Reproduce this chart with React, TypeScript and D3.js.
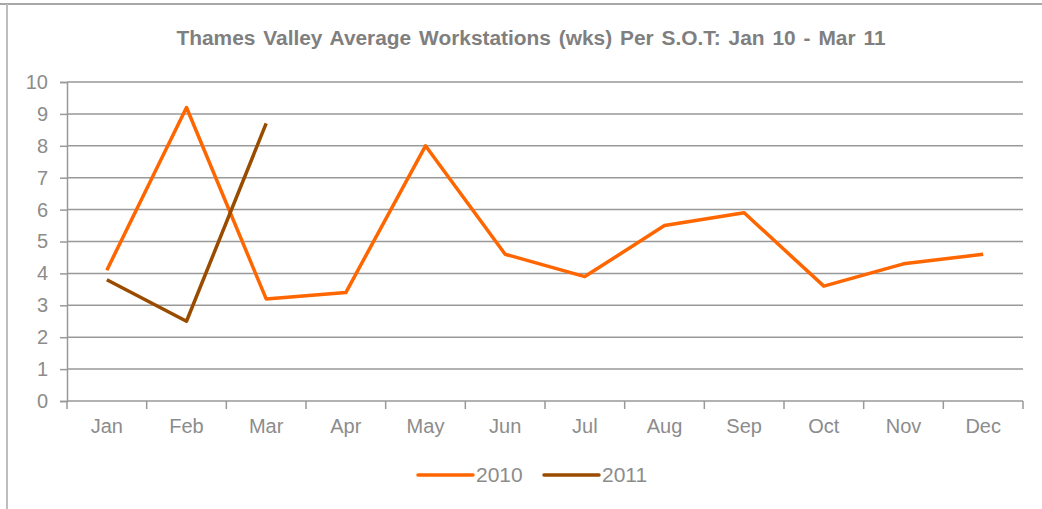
import React, { useEffect, useRef } from "react";
import * as d3 from "d3";

const months = ["Jan", "Feb", "Mar", "Apr", "May", "Jun", "Jul", "Aug", "Sep", "Oct", "Nov", "Dec"];
const values2010 = [4.1, 9.2, 3.2, 3.4, 8.0, 4.6, 3.9, 5.5, 5.9, 3.6, 4.3, 4.6];
const values2011 = [3.8, 2.5, 8.7];
const yTicks = [0, 1, 2, 3, 4, 5, 6, 7, 8, 9, 10];
const seriesNames = ["2010", "2011"];
const seriesColors = ["#FF6600", "#994C00"];

const W = 1042;
const H = 509;
const margin = { top: 82, right: 19, bottom: 108, left: 67 };

export default function App() {
  const ref = useRef<SVGSVGElement>(null);

  useEffect(() => {
    const svg = d3.select(ref.current);
    svg.selectAll("*").remove();
    const font = "'Liberation Sans', Arial, sans-serif";
    const gray = "#8c8c8c";

    // frame
    svg.append("line").attr("x1", 0).attr("x2", W).attr("y1", 4).attr("y2", 4)
      .attr("stroke", "#8a8a8a").attr("stroke-width", 1.5);
    svg.append("line").attr("x1", 7).attr("x2", 7).attr("y1", 4).attr("y2", H)
      .attr("stroke", "#bdbdbd").attr("stroke-width", 2);

    svg.append("text")
      .attr("x", 531).attr("y", 45)
      .attr("text-anchor", "middle")
      .attr("font-family", font).attr("font-weight", "bold").attr("font-size", 20)
      .attr("fill", "#7f7f7f")
      .attr("word-spacing", 2)
      .attr("textLength", 709)
      .attr("lengthAdjust", "spacingAndGlyphs")
      .text("Thames Valley Average Workstations (wks) Per S.O.T: Jan 10 - Mar 11");

    const x = d3.scaleBand<string>().domain(months).range([margin.left, W - margin.right]);
    const y = d3.scaleLinear().domain([0, 10]).range([H - margin.bottom, margin.top]);

    // gridlines
    svg.append("g").selectAll("line").data(yTicks.filter(t => t > 0)).join("line")
      .attr("x1", margin.left).attr("x2", W - margin.right)
      .attr("y1", d => y(d)).attr("y2", d => y(d))
      .attr("stroke", "#999").attr("stroke-width", 1.5);

    const yAxis = svg.append("g")
      .attr("transform", `translate(${margin.left},0)`)
      .call(d3.axisLeft(y).tickValues(yTicks).tickSize(7).tickPadding(12).tickFormat(d3.format("d")));
    yAxis.select(".domain").attr("stroke", "#999").attr("stroke-width", 1.5);
    yAxis.selectAll(".tick line").attr("stroke", "#999").attr("stroke-width", 1.5);
    yAxis.selectAll("text").attr("font-family", font).attr("font-size", 20).attr("fill", gray);

    const xAxis = svg.append("g")
      .attr("transform", `translate(0,${y(0)})`)
      .call(d3.axisBottom(x).tickSize(0).tickPadding(18));
    xAxis.select(".domain").remove();
    xAxis.selectAll("text").attr("font-family", font).attr("font-size", 20).attr("fill", gray);
    svg.append("line").attr("x1", margin.left).attr("x2", W - margin.right)
      .attr("y1", y(0)).attr("y2", y(0)).attr("stroke", "#999").attr("stroke-width", 1.5);
    svg.append("g").selectAll("line").data(months.concat(["end"])).join("line")
      .attr("x1", (_, i) => margin.left + i * x.bandwidth())
      .attr("x2", (_, i) => margin.left + i * x.bandwidth())
      .attr("y1", y(0)).attr("y2", y(0) + 8)
      .attr("stroke", "#999").attr("stroke-width", 1.5);

    const line = d3.line<number>()
      .x((_, i) => (x(months[i]) ?? 0) + x.bandwidth() / 2)
      .y(d => y(d));

    [values2010, values2011].forEach((vals, i) => {
      svg.append("path").datum(vals)
        .attr("d", line)
        .attr("fill", "none")
        .attr("stroke", seriesColors[i])
        .attr("stroke-width", 3.5)
        .attr("stroke-linejoin", "round");
    });

    // legend
    const legendX = [418, 544];
    seriesNames.forEach((name, i) => {
      const g = svg.append("g").attr("transform", `translate(${legendX[i]},475)`);
      g.append("line").attr("x1", 0).attr("x2", 55).attr("y1", 0).attr("y2", 0)
        .attr("stroke", seriesColors[i]).attr("stroke-width", 3.5).attr("stroke-linecap", "round");
      g.append("text").attr("x", 58).attr("y", 7)
        .attr("font-family", font).attr("font-size", 21).attr("fill", gray)
        .text(name);
    });
  }, []);

  return (
    <svg ref={ref} width={W} height={H}
      style={{ position: "absolute", left: 0, top: 0, background: "#fff" }} />
  );
}
